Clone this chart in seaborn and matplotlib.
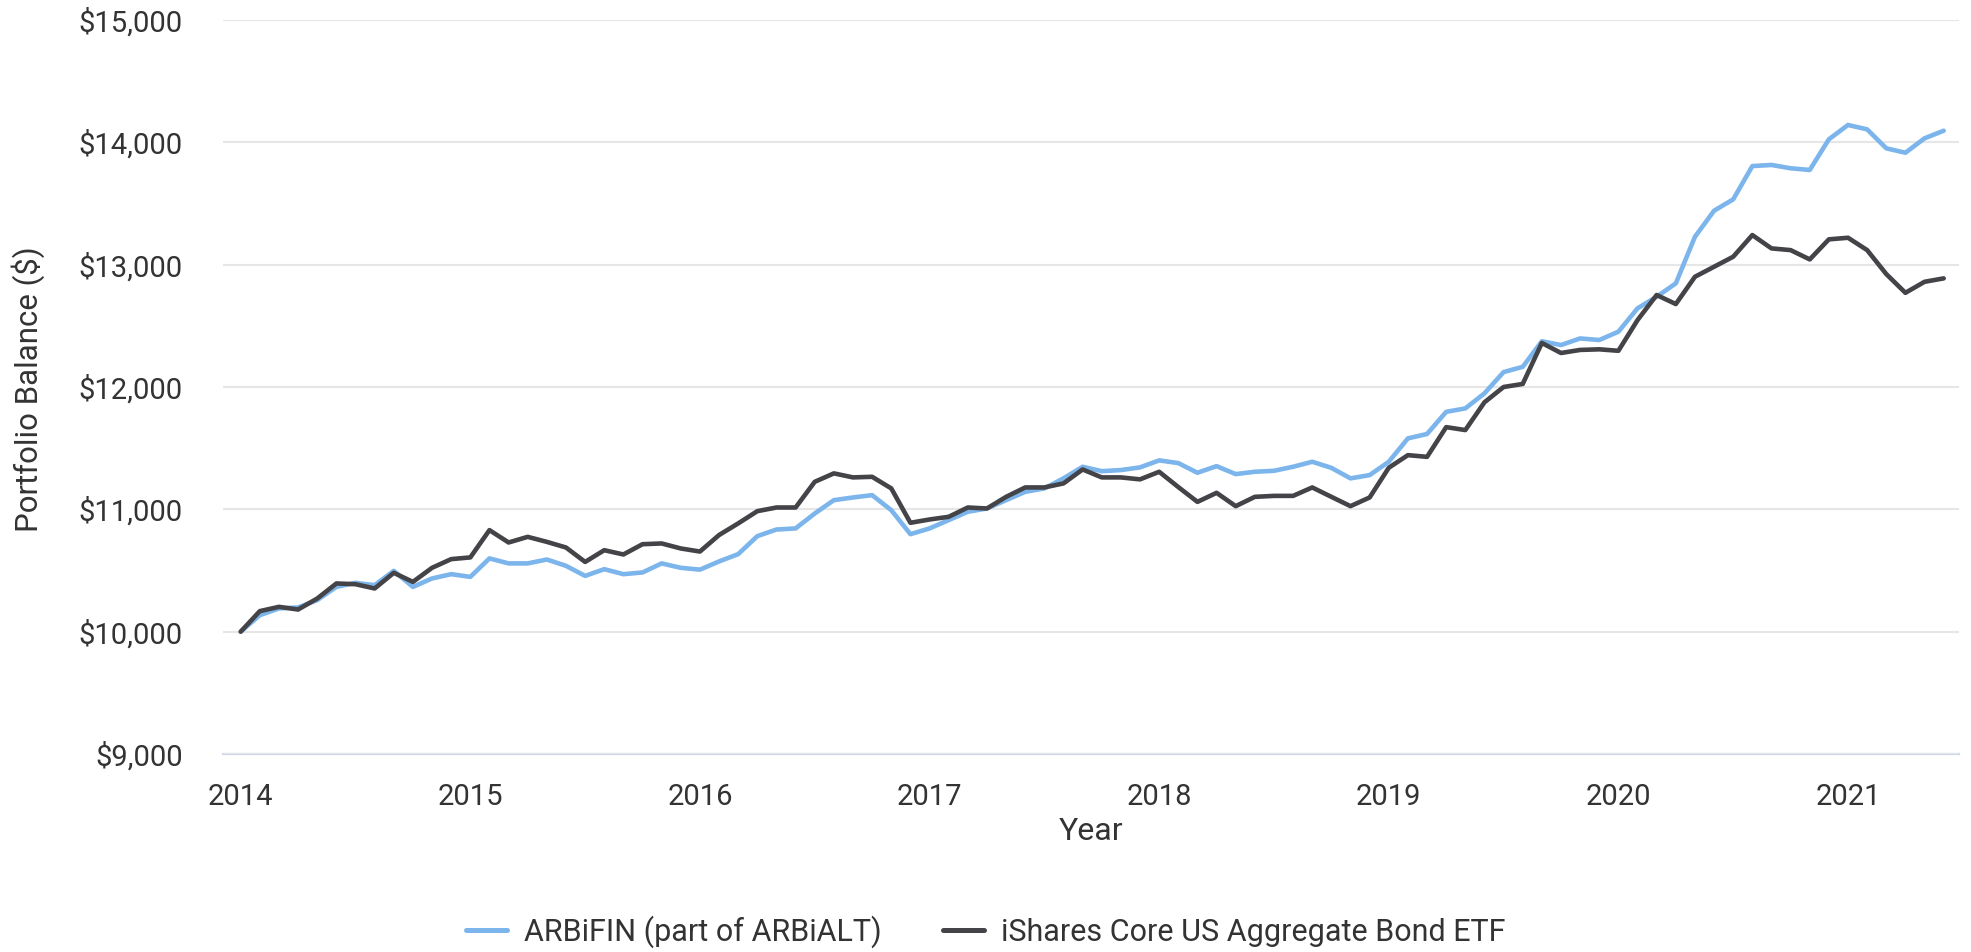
import numpy as np
import pandas as pd
import matplotlib
matplotlib.use('Agg')
import matplotlib.pyplot as plt
import seaborn as sns
from matplotlib.ticker import FuncFormatter

# ── DATA (monthly, Jan 2014 – Jun 2021) ─────────────────────
start_year = 2014
arbifin = [10000, 10135, 10190, 10198, 10258, 10366, 10399, 10380, 10497, 10366,
           10435, 10470, 10448, 10599, 10558, 10558, 10590, 10538, 10456, 10511,
           10470, 10484, 10558, 10522, 10507, 10574, 10634, 10781, 10835, 10844,
           10966, 11075, 11097, 11116, 10993, 10797, 10844, 10912, 10980, 11007,
           11075, 11143, 11171, 11253, 11348, 11312, 11321, 11343, 11400, 11378,
           11299, 11353, 11288, 11307, 11315, 11348, 11389, 11339, 11253, 11280,
           11389, 11580, 11616, 11797, 11825, 11948, 12122, 12165, 12374, 12343,
           12397, 12384, 12452, 12643, 12738, 12847, 13228, 13441, 13534, 13806,
           13815, 13788, 13774, 14025, 14142, 14106, 13951, 13915, 14033, 14095]
ishares = [10000, 10168, 10203, 10181, 10271, 10394, 10388, 10353, 10481, 10407,
           10522, 10593, 10607, 10830, 10729, 10775, 10734, 10688, 10570, 10666,
           10631, 10715, 10721, 10680, 10655, 10790, 10885, 10985, 11015, 11015,
           11225, 11294, 11261, 11266, 11171, 10890, 10917, 10939, 11015, 11007,
           11102, 11179, 11179, 11212, 11326, 11261, 11261, 11245, 11307, 11182,
           11061, 11135, 11026, 11102, 11110, 11110, 11179, 11102, 11026, 11097,
           11340, 11443, 11429, 11672, 11648, 11875, 12000, 12025, 12360, 12278,
           12303, 12308, 12296, 12547, 12752, 12678, 12901, 12983, 13065, 13242,
           13133, 13119, 13043, 13207, 13220, 13119, 12923, 12770, 12860, 12888]
series_names = ['ARBiFIN (part of ARBiALT)', 'iShares Core US Aggregate Bond ETF']
year_ticks = [2014, 2015, 2016, 2017, 2018, 2019, 2020, 2021]
y_ticks = [9000, 10000, 11000, 12000, 13000, 14000, 15000]

months = np.arange(len(arbifin))
year_pos = start_year + months / 12

df = pd.concat([
    pd.DataFrame({'Year': year_pos, 'Balance': arbifin, 'Series': series_names[0]}),
    pd.DataFrame({'Year': year_pos, 'Balance': ishares, 'Series': series_names[1]}),
])

# ── STYLE ───────────────────────────────────────────────────
sns.set_style('white')
plt.rcParams['font.family'] = ['Roboto', 'DejaVu Sans']
text_col = '#333333'
axis_col = '#ccd6eb'
colors = ['#7cb5ec', '#434348']

fig = plt.figure(figsize=(19.71, 9.52), dpi=100)
ax = fig.add_axes([223 / 1971, 1 - 754 / 952, (1959 - 223) / 1971, (754 - 20) / 952])

sns.lineplot(data=df, x='Year', y='Balance', hue='Series', ax=ax,
             palette=colors, linewidth=3.3, legend=False)

ax.set_xlim(start_year - 0.925 / 12, start_year + 89.8 / 12)
ax.set_ylim(9000, 15000)
ax.set_xticks(year_ticks)
ax.set_yticks(y_ticks)
ax.yaxis.set_major_formatter(FuncFormatter(lambda v, p: f'${v:,.0f}'))

ax.grid(axis='y', color='#e6e6e6', linewidth=1.5)
ax.set_axisbelow(True)
for s in ['top', 'right', 'left']:
    ax.spines[s].set_visible(False)
ax.spines['bottom'].set_color(axis_col)
ax.spines['bottom'].set_linewidth(1.6)
ax.spines['bottom'].set_zorder(0.5)

ax.tick_params(axis='y', length=0, pad=29, labelsize=21, labelcolor=text_col)
ax.tick_params(axis='x', length=18, width=1.5, color=axis_col, pad=3,
               labelsize=21, labelcolor=text_col)

ax.set_xlabel('Year', fontsize=23, color=text_col, labelpad=4)
ax.set_ylabel('')
fig.text(28 / 1971, 1 - 389 / 952, 'Portfolio Balance ($)', rotation=90,
         ha='center', va='center', fontsize=22.5, color=text_col)

# legend at bottom
handles = [plt.Line2D([], [], color=c, linewidth=3.6) for c in colors]
fig.legend(handles, series_names, loc='center', bbox_to_anchor=(0.5, 1 - 932 / 952),
           ncol=2, frameon=False, fontsize=22, handlelength=1.35,
           handletextpad=0.55, columnspacing=2.0, labelcolor=text_col)

fig.savefig('out.png', dpi=100)
